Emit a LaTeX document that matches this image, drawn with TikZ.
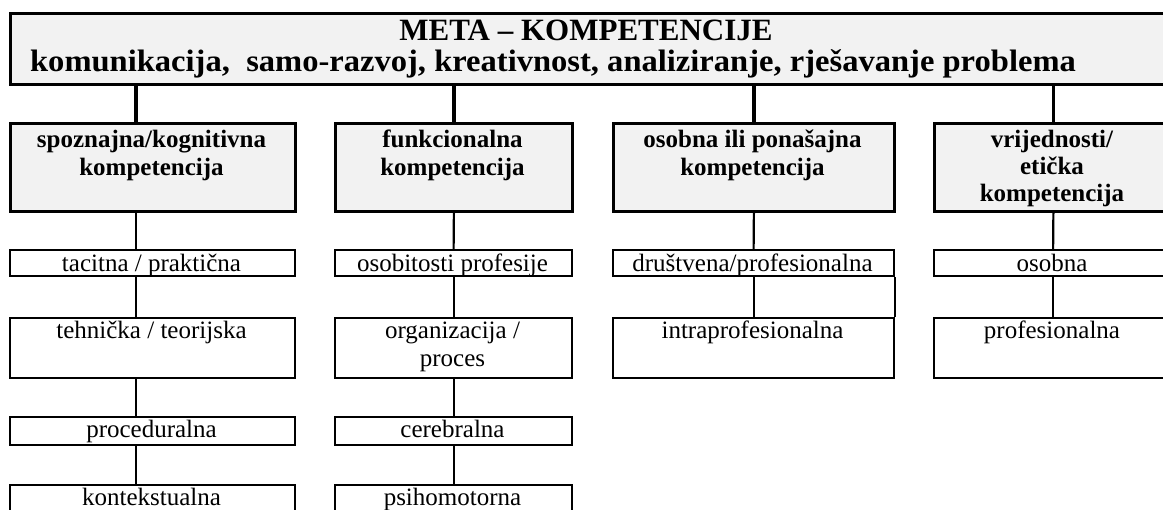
\documentclass[tikz,border=0pt]{standalone}
\usepackage{graphicx}
\usepackage{fontspec}
\setmainfont{Liberation Serif}
\definecolor{boxgray}{HTML}{F2F2F2}
\tikzset{
  topbox/.style={draw, line width=3pt, fill=boxgray, inner sep=0pt, anchor=north west},
  headbox/.style={draw, line width=2.8pt, fill=boxgray, inner sep=0pt, anchor=north west},
  subbox/.style={draw, line width=2.2pt, fill=white, inner sep=0pt, anchor=north west},
  bigline/.style={line width=3.5pt},
  smallline/.style={line width=2.2pt},
  titletxt/.style={font=\fontsize{31}{34}\selectfont\bfseries, inner sep=0pt, anchor=base},
  headtxt/.style={font=\fontsize{25}{28}\selectfont\bfseries, inner sep=0pt, anchor=base},
  subtxt/.style={font=\fontsize{25}{28}\selectfont, inner sep=0pt, anchor=base},
}
\begin{document}
\begin{tikzpicture}[x=1pt,y=-1pt]
\clip (0,0) rectangle (1163,510);
\fill[white] (0,0) rectangle (1163,510);
% top box
\node[topbox, minimum width=1170pt, minimum height=71pt] (top) at (9,12) {};
\node[titletxt] (tt1) at (586,40.5) {META – KOMPETENCIJE};
\node[titletxt] (tt2) at (553,72) {\scalebox{1.05}[1]{komunikacija,~ samo-razvoj, kreativnost, analiziranje, rješavanje problema}};
% level 2
\node[headbox, minimum width=285pt, minimum height=88pt] (h1) at (9,122) {};
\node[headbox, minimum width=237pt, minimum height=88pt] (h2) at (334,122) {};
\node[headbox, minimum width=281pt, minimum height=88pt] (h3) at (612,122) {};
\node[headbox, minimum width=238pt, minimum height=88pt] (h4) at (933,122) {};
\coordinate (c1) at (136,0);
\draw[bigline] (top.south -| c1) -- (h1.north -| c1);
\draw[bigline] (top.south -| h2.north) -- (h2.north);
\draw[bigline] (top.south -| h3.north) -- (h3.north);
\draw[bigline] (top.south -| h4.north) -- (h4.north);
\node[headtxt] (ht1a) at (151.5,148) {spoznajna/kognitivna};
\node[headtxt] (ht1b) at (151.5,176) {kompetencija};
\node[headtxt] (ht2a) at (452.5,148) {funkcionalna};
\node[headtxt] (ht2b) at (452.5,176) {kompetencija};
\node[headtxt] (ht3a) at (752.5,148) {osobna ili ponašajna};
\node[headtxt] (ht3b) at (752.5,176) {kompetencija};
\node[headtxt] (ht4a) at (1052,148) {vrijednosti/};
\node[headtxt] (ht4b) at (1052,175) {etička};
\node[headtxt] (ht4c) at (1052,202) {kompetencija};
% level 3
\node[subbox, minimum width=285pt, minimum height=26pt] (s1a) at (9,249) {};
\node[subbox, minimum width=237pt, minimum height=26pt] (s2a) at (334,249) {};
\node[subbox, minimum width=281pt, minimum height=26pt] (s3a) at (612,249) {};
\node[subbox, minimum width=238pt, minimum height=26pt] (s4a) at (933,249) {};
% level 4
\node[subbox, minimum width=285pt, minimum height=60pt] (s1b) at (9,317) {};
\node[subbox, minimum width=237pt, minimum height=60pt] (s2b) at (334,317) {};
\node[subbox, minimum width=281pt, minimum height=60pt] (s3b) at (612,317) {};
\node[subbox, minimum width=238pt, minimum height=60pt] (s4b) at (933,317) {};
% level 5
\node[subbox, minimum width=285pt, minimum height=28pt] (s1c) at (9,416) {};
\node[subbox, minimum width=237pt, minimum height=28pt] (s2c) at (334,416) {};
% level 6
\node[subbox, minimum width=285pt, minimum height=40pt] (s1d) at (9,484) {};
\node[subbox, minimum width=237pt, minimum height=40pt] (s2d) at (334,484) {};
% connectors
\draw[smallline] (h1.south -| c1) -- (s1a.north -| c1);
\draw[smallline] (s1a.south -| c1) -- (s1b.north -| c1);
\draw[smallline] (s1b.south -| c1) -- (s1c.north -| c1);
\draw[smallline] (s1c.south -| c1) -- (s1d.north -| c1);
\draw[smallline] (h2.south) -- (s2a.north);
\draw[smallline] (s2a.south) -- (s2b.north);
\draw[smallline] (s2b.south) -- (s2c.north);
\draw[smallline] (s2c.south) -- (s2d.north);
\draw[smallline] (h3.south) -- (s3a.north);
\draw[smallline] (s3a.south) -- (s3b.north);
\draw[smallline] (s3a.south east) -- (s3b.north east);
\draw[smallline] (h4.south) -- (s4a.north);
\draw[smallline] (s4a.south) -- (s4b.north);
% texts
\node[subtxt] (st1a) at (151.5,272) {tacitna / praktična};
\node[subtxt] (st2a) at (452.5,272) {osobitosti profesije};
\node[subtxt] (st3a) at (752.5,272) {društvena/profesionalna};
\node[subtxt] (st4a) at (1052,272) {osobna};
\node[subtxt] (st1b) at (151.5,339) {tehnička / teorijska};
\node[subtxt] (st2b) at (452.5,339) {organizacija /};
\node[subtxt] (st2bb) at (452.5,367) {proces};
\node[subtxt] (st3b) at (752.5,339) {intraprofesionalna};
\node[subtxt] (st4b) at (1052,339) {profesionalna};
\node[subtxt] (st1c) at (151.5,438) {proceduralna};
\node[subtxt] (st2c) at (452.5,438) {cerebralna};
\node[subtxt] (st1d) at (151.5,506) {kontekstualna};
\node[subtxt] (st2d) at (452.5,506) {psihomotorna};
\end{tikzpicture}
\end{document}
